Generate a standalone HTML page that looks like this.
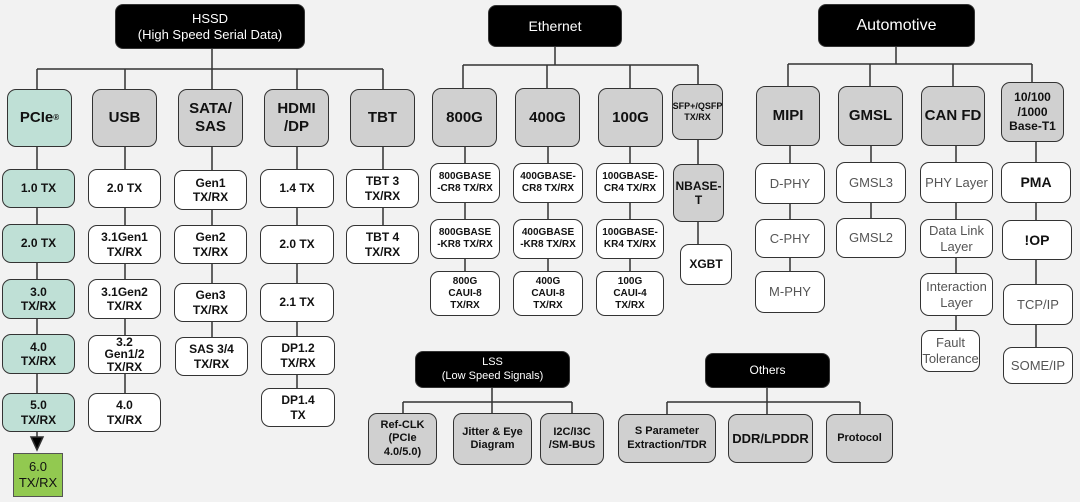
<!DOCTYPE html>
<html><head><meta charset="utf-8"><style>
body{margin:0;width:1080px;height:502px;background:#f2f2f2;position:relative;overflow:hidden;font-family:"Liberation Sans",sans-serif;}
.b{position:absolute;box-sizing:border-box;border:1.5px solid #333;border-radius:9px;background:#fff;display:flex;align-items:center;justify-content:center;text-align:center;font-size:12px;font-weight:bold;color:#111;line-height:1.2;}
.k{background:#000;color:#fff;border-radius:8px;font-weight:normal;font-size:14px}
.g{background:#d0d0d0;font-size:15px}
.t{background:#bfe0d6}
.l{font-weight:normal;color:#555;font-size:13px}
.s{font-size:10px}
svg{position:absolute;left:0;top:0}
</style></head><body>
<svg width="1080" height="502" stroke="#333" stroke-width="1.5" fill="none">
<path d="M212 48V69M37 69H383M37 69V89M125 69V89M212 69V89M297 69V89M383 69V89"/>
<path d="M37 147V393M125 147V393M212 147V337M297 147V388M383 147V225"/>
<path d="M37 432V440"/><polygon points="31,437 43,437 37,450" fill="#000"/>
<path d="M555 47V65M463 65H698M463 65V88M547 65V88M630 65V88M698 65V84"/>
<path d="M465 147V271M548 147V271M630 147V271M698 140V244"/>
<path d="M896 47V64M788 64H1032M788 64V86M870 64V86M953 64V86M1032 64V82"/>
<path d="M790 146V271M871 146V218M956 146V330M1036 142V347"/>
<path d="M492 388V402M403 402H572M403 402V413M492 402V413M572 402V413"/>
<path d="M767 388V402M667 402H860M667 402V414M767 402V414M860 402V414"/>
</svg>

<div class="b k" style="left:115px;top:4px;width:190px;height:45px;font-size:13px">HSSD<br>(High Speed Serial Data)</div>
<div class="b g t" style="left:7px;top:89px;width:65px;height:58px">PCIe<sup style="font-size:8px">®</sup></div>
<div class="b g" style="left:92px;top:89px;width:65px;height:58px">USB</div>
<div class="b g" style="left:178px;top:89px;width:65px;height:58px">SATA/<br>SAS</div>
<div class="b g" style="left:264px;top:89px;width:65px;height:58px">HDMI<br>/DP</div>
<div class="b g" style="left:350px;top:89px;width:65px;height:58px">TBT</div>

<div class="b t" style="left:2px;top:169px;width:73px;height:39px">1.0 TX</div>
<div class="b t" style="left:2px;top:224px;width:73px;height:39px">2.0 TX</div>
<div class="b t" style="left:2px;top:279px;width:73px;height:40px">3.0<br>TX/RX</div>
<div class="b t" style="left:2px;top:334px;width:73px;height:40px">4.0<br>TX/RX</div>
<div class="b t" style="left:2px;top:393px;width:73px;height:39px">5.0<br>TX/RX</div>
<div class="b" style="left:13px;top:453px;width:50px;height:44px;background:#92c950;border-radius:0;border:1px solid #555;font-weight:normal;font-size:13px">6.0<br>TX/RX</div>

<div class="b" style="left:88px;top:169px;width:73px;height:39px">2.0 TX</div>
<div class="b" style="left:88px;top:225px;width:73px;height:39px">3.1Gen1<br>TX/RX</div>
<div class="b" style="left:88px;top:279px;width:73px;height:40px">3.1Gen2<br>TX/RX</div>
<div class="b" style="left:88px;top:335px;width:73px;height:39px;line-height:1.05">3.2<br>Gen1/2<br>TX/RX</div>
<div class="b" style="left:88px;top:393px;width:73px;height:39px">4.0<br>TX/RX</div>

<div class="b" style="left:174px;top:170px;width:73px;height:40px">Gen1<br>TX/RX</div>
<div class="b" style="left:174px;top:225px;width:73px;height:39px">Gen2<br>TX/RX</div>
<div class="b" style="left:174px;top:283px;width:73px;height:39px">Gen3<br>TX/RX</div>
<div class="b" style="left:175px;top:337px;width:73px;height:39px">SAS 3/4<br>TX/RX</div>

<div class="b" style="left:260px;top:169px;width:74px;height:39px">1.4 TX</div>
<div class="b" style="left:260px;top:225px;width:74px;height:39px">2.0 TX</div>
<div class="b" style="left:260px;top:283px;width:74px;height:39px">2.1 TX</div>
<div class="b" style="left:261px;top:336px;width:74px;height:39px">DP1.2<br>TX/RX</div>
<div class="b" style="left:261px;top:388px;width:74px;height:39px">DP1.4<br>TX</div>

<div class="b" style="left:346px;top:169px;width:73px;height:39px">TBT 3<br>TX/RX</div>
<div class="b" style="left:346px;top:225px;width:73px;height:39px">TBT 4<br>TX/RX</div>

<div class="b k" style="left:488px;top:5px;width:134px;height:42px">Ethernet</div>
<div class="b g" style="left:432px;top:88px;width:65px;height:59px">800G</div>
<div class="b g" style="left:515px;top:88px;width:65px;height:59px">400G</div>
<div class="b g" style="left:598px;top:88px;width:65px;height:59px">100G</div>
<div class="b g s" style="left:672px;top:84px;width:51px;height:56px;font-size:9px">SFP+/QSFP<br>TX/RX</div>
<div class="b s" style="left:430px;top:163px;width:70px;height:40px">800GBASE<br>-CR8 TX/RX</div>
<div class="b s" style="left:513px;top:163px;width:70px;height:40px">400GBASE-<br>CR8 TX/RX</div>
<div class="b s" style="left:596px;top:163px;width:68px;height:40px">100GBASE-<br>CR4 TX/RX</div>
<div class="b s" style="left:430px;top:219px;width:70px;height:40px">800GBASE<br>-KR8 TX/RX</div>
<div class="b s" style="left:513px;top:219px;width:70px;height:40px">400GBASE<br>-KR8 TX/RX</div>
<div class="b s" style="left:596px;top:219px;width:68px;height:40px">100GBASE-<br>KR4 TX/RX</div>
<div class="b s" style="left:430px;top:271px;width:70px;height:45px">800G<br>CAUI-8<br>TX/RX</div>
<div class="b s" style="left:513px;top:271px;width:70px;height:45px">400G<br>CAUI-8<br>TX/RX</div>
<div class="b s" style="left:596px;top:271px;width:68px;height:45px">100G<br>CAUI-4<br>TX/RX</div>
<div class="b g" style="left:673px;top:164px;width:51px;height:58px;font-size:12px">NBASE-<br>T</div>
<div class="b" style="left:680px;top:244px;width:52px;height:41px">XGBT</div>

<div class="b k" style="left:818px;top:4px;width:157px;height:43px;font-size:16px">Automotive</div>
<div class="b g" style="left:756px;top:86px;width:64px;height:60px">MIPI</div>
<div class="b g" style="left:838px;top:86px;width:65px;height:60px">GMSL</div>
<div class="b g" style="left:921px;top:86px;width:64px;height:60px">CAN FD</div>
<div class="b g" style="left:1001px;top:82px;width:63px;height:60px;font-size:12px">10/100<br>/1000<br>Base-T1</div>
<div class="b l" style="left:755px;top:163px;width:70px;height:41px">D-PHY</div>
<div class="b l" style="left:755px;top:219px;width:70px;height:39px">C-PHY</div>
<div class="b l" style="left:755px;top:271px;width:70px;height:42px">M-PHY</div>
<div class="b l" style="left:836px;top:162px;width:70px;height:41px">GMSL3</div>
<div class="b l" style="left:836px;top:218px;width:70px;height:40px">GMSL2</div>
<div class="b l" style="left:920px;top:162px;width:73px;height:41px">PHY Layer</div>
<div class="b l" style="left:920px;top:219px;width:73px;height:39px">Data Link<br>Layer</div>
<div class="b l" style="left:920px;top:273px;width:73px;height:43px">Interaction<br>Layer</div>
<div class="b l" style="left:921px;top:330px;width:59px;height:42px">Fault<br>Tolerance</div>
<div class="b" style="left:1001px;top:162px;width:70px;height:41px;font-size:14px">PMA</div>
<div class="b" style="left:1002px;top:220px;width:70px;height:40px;font-size:14px">!OP</div>
<div class="b l" style="left:1003px;top:284px;width:70px;height:41px">TCP/IP</div>
<div class="b l" style="left:1003px;top:347px;width:70px;height:37px">SOME/IP</div>

<div class="b k" style="left:415px;top:351px;width:155px;height:37px;font-size:11px">LSS<br>(Low Speed Signals)</div>
<div class="b g" style="left:368px;top:413px;width:69px;height:52px;font-size:11px">Ref-CLK<br>(PCIe<br>4.0/5.0)</div>
<div class="b g" style="left:453px;top:413px;width:79px;height:52px;font-size:11px">Jitter &amp; Eye<br>Diagram</div>
<div class="b g" style="left:540px;top:413px;width:64px;height:52px;font-size:11px">I2C/I3C<br>/SM-BUS</div>

<div class="b k" style="left:705px;top:353px;width:125px;height:35px;font-size:12px">Others</div>
<div class="b g" style="left:618px;top:414px;width:98px;height:49px;font-size:11px">S Parameter<br>Extraction/TDR</div>
<div class="b g" style="left:728px;top:414px;width:85px;height:49px;font-size:13px">DDR/LPDDR</div>
<div class="b g" style="left:826px;top:414px;width:67px;height:49px;font-size:11px">Protocol</div>
</body></html>
